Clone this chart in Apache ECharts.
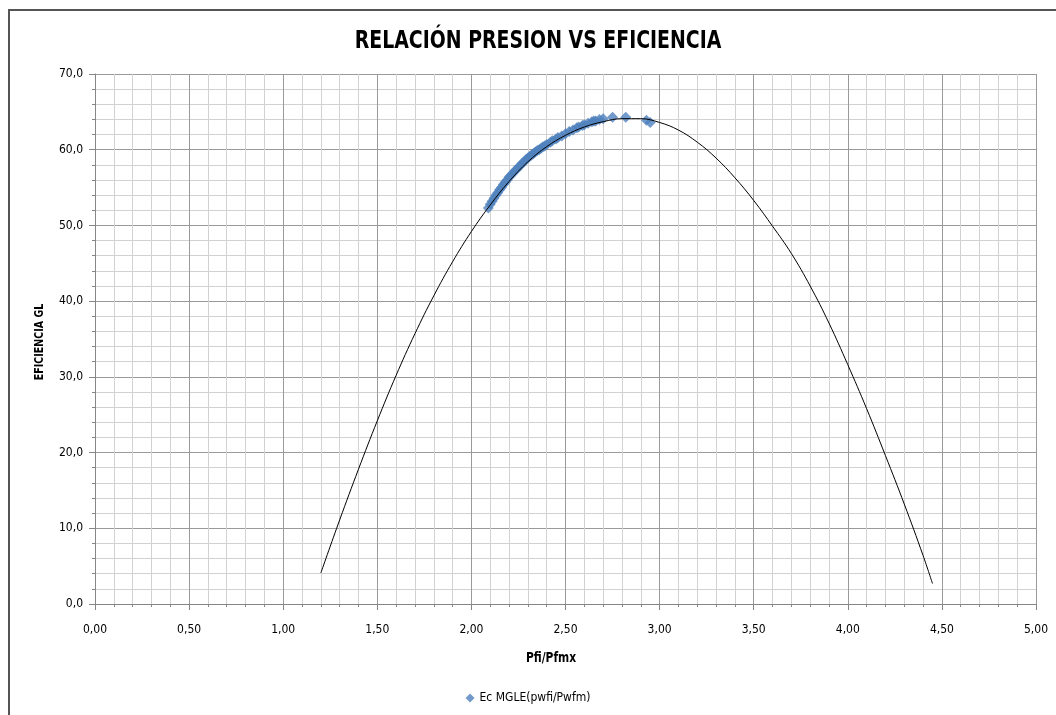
<!DOCTYPE html>
<html>
<head>
<meta charset="utf-8">
<script src="https://cdn.jsdelivr.net/npm/echarts@6/dist/echarts.min.js"></script>
<style>
html,body{margin:0;padding:0;background:#fff;}
#c{width:1056px;height:715px;}
</style>
</head>
<body>
<div id="c"></div>
<script>
// Trend curve (black line): x = Pfi/Pfmx, y = eficiencia
const curveX = [1.20,1.30,1.40,1.50,1.60,1.70,1.80,1.90,2.00,2.10,2.20,2.30,2.40,2.50,2.60,2.70,2.80,2.90,3.00,3.10,3.20,3.30,3.40,3.50,3.60,3.70,3.80,3.90,4.00,4.10,4.20,4.30,4.40,4.45];
const curveY = [4.1,11.1,17.8,24.2,30.2,35.7,40.7,45.2,49.2,52.7,55.8,58.4,60.4,61.9,63.0,63.7,64.1,64.1,63.6,62.6,61.0,58.9,56.3,53.3,49.9,46.3,42.0,37.1,31.6,25.8,19.6,13.2,6.4,2.7];

// Scatter series "Ec MGLE(pwfi/Pwfm)"
const ptsX = [2.09,2.10,2.11,2.12,2.13,2.14,2.15,2.16,2.17,2.18,2.19,2.20,2.21,2.22,2.23,2.24,2.25,2.26,2.27,2.28,2.29,2.30,2.31,2.32,2.33,2.34,2.35,2.36,2.37,2.38,2.39,2.40,2.42,2.43,2.45,2.46,2.48,2.50,2.52,2.54,2.56,2.57,2.59,2.60,2.62,2.64,2.65,2.66,2.68,2.70,2.75,2.82,2.93,2.95];
const ptsY = [52.3,52.8,53.2,53.6,54.0,54.3,54.7,55.0,55.4,55.7,56.0,56.4,56.6,56.9,57.2,57.4,57.7,57.9,58.2,58.4,58.7,58.9,59.1,59.3,59.5,59.7,59.9,60.0,60.2,60.4,60.5,60.7,61.0,61.2,61.4,61.6,61.8,62.1,62.4,62.6,62.9,63.0,63.2,63.3,63.5,63.7,63.8,63.8,64.0,64.1,64.3,64.3,63.9,63.6];

const seriesName = 'Ec MGLE(pwfi/Pwfm)';
const titleText = 'RELACIÓN PRESION VS EFICIENCIA';
const xName = 'Pfi/Pfmx';
const yName = 'EFICIENCIA GL';

const curveData = curveX.map((x,i)=>[x,curveY[i]]);
const ptsData = ptsX.map((x,i)=>[x,ptsY[i]]);

const condFont = "'DejaVu Sans Condensed','DejaVu Sans',sans-serif";
const labelFont = "'DejaVu Sans Condensed','DejaVu Sans',sans-serif";
const chart = echarts.init(document.getElementById('c'), null, {renderer:'canvas'});
chart.setOption({
  animation:false,
  backgroundColor:'#ffffff',
  grid:{left:95,right:20,top:74,bottom:111,containLabel:false},
  legend:{data:[{name:seriesName,icon:'diamond'}],bottom:6,left:'center',itemWidth:9,itemHeight:9,itemGap:4,
    textStyle:{fontFamily:labelFont,fontSize:12,color:'#000'}},
  xAxis:{type:'value',min:0,max:5,interval:0.5,
    axisLine:{show:true,lineStyle:{color:'#868686'}},
    axisTick:{show:true,length:6,lineStyle:{color:'#868686'}},
    axisLabel:{formatter:v=>v.toFixed(2).replace('.',','),fontFamily:labelFont,fontSize:12,color:'#000',margin:20},
    splitLine:{show:true,lineStyle:{color:'#9a9a9a',width:1}},
    minorTick:{show:true,splitNumber:5,length:3,lineStyle:{color:'#868686'}},
    minorSplitLine:{show:true,lineStyle:{color:'#d2d2d2',width:1}}},
  yAxis:{type:'value',min:0,max:70,interval:10,
    axisLine:{show:true,lineStyle:{color:'#868686'}},
    axisTick:{show:true,length:6,lineStyle:{color:'#868686'}},
    axisLabel:{formatter:v=>v.toFixed(1).replace('.',','),fontFamily:labelFont,fontSize:12,color:'#000',margin:12},
    splitLine:{show:true,lineStyle:{color:'#9a9a9a',width:1}},
    minorTick:{show:true,splitNumber:5,length:3,lineStyle:{color:'#868686'}},
    minorSplitLine:{show:true,lineStyle:{color:'#d2d2d2',width:1}}},
  graphic:[
    {type:'rect',shape:{x:9,y:10,width:1060,height:720},style:{fill:'none',stroke:'#555',lineWidth:2},z:-1},
    {type:'text',x:538,y:41,scaleX:0.84,style:{text:titleText,fontFamily:condFont,fontWeight:'bold',fontSize:25,fill:'#000',textAlign:'center',textVerticalAlign:'middle'}},
    {type:'text',x:551,y:658,scaleX:0.85,style:{text:xName,fontFamily:condFont,fontWeight:'bold',fontSize:14,fill:'#000',textAlign:'center',textVerticalAlign:'middle'}},
    {type:'text',x:40,y:342,rotation:Math.PI/2,scaleX:0.88,style:{text:yName,fontFamily:condFont,fontWeight:'bold',fontSize:12,fill:'#000',textAlign:'center',textVerticalAlign:'middle'}}
  ],
  series:[
    {name:'trend',type:'line',data:curveData,smooth:0.4,showSymbol:false,symbol:'none',
      lineStyle:{color:'#000',width:1},z:3,silent:true},
    {name:seriesName,type:'scatter',data:ptsData,symbol:'diamond',symbolSize:11,
      itemStyle:{color:'#4F81BD'},z:2}
  ]
});
</script>
</body>
</html>
